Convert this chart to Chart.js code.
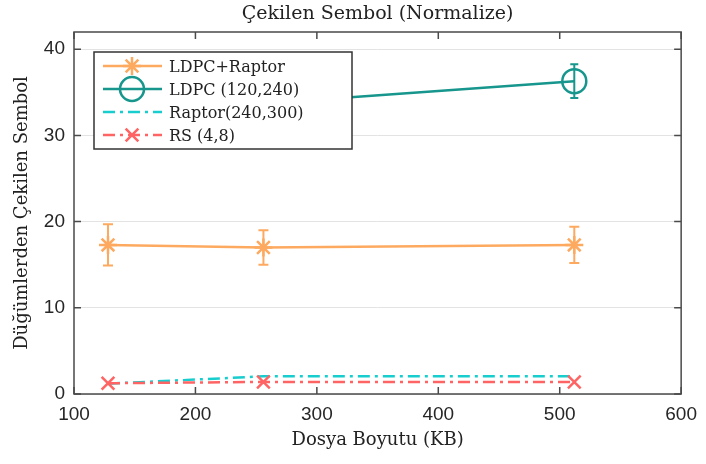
<!DOCTYPE html>
<html>
<head>
<meta charset="utf-8">
<script src="https://cdn.jsdelivr.net/npm/chart.js@4"></script>
<style>
  html, body { margin: 0; padding: 0; background: #fff; }
  #wrap { width: 706px; height: 464px; }
</style>
</head>
<body>
<div id="wrap"><canvas id="chart"></canvas></div>
<script>
// data
const fileSizes = [128, 256, 512];
const ldpcRaptor = [17.3, 17.0, 17.3];
const ldpcRaptorErr = [2.4, 2.0, 2.1];
const ldpc = [33.0, 33.7, 36.3];
const ldpcErr = [2.0, 2.0, 1.95];
const raptor = [1.2, 2.05, 2.05];
const rs = [1.25, 1.4, 1.4];
const xTicks = [100, 200, 300, 400, 500, 600];
const yTicks = [0, 10, 20, 30, 40];

const COL_ORANGE = '#FDAA60';
const COL_TEAL = '#16968C';
const COL_CYAN = '#18CDCD';
const COL_RED = '#FF6464';
const DASHDOT = [12, 5, 3, 5];
const SERIF = "'DejaVu Serif', serif";
const SANS = "'Liberation Sans', Arial, sans-serif";

function pts(ys) {
  return fileSizes.map((x, i) => ({ x, y: ys[i] }));
}

const series = [
  { label: 'LDPC+Raptor', data: ldpcRaptor, err: ldpcRaptorErr, color: COL_ORANGE,
    style: 'star', radius: 9, dash: [], cap: 5 },
  { label: 'LDPC (120,240)', data: ldpc, err: ldpcErr, color: COL_TEAL,
    style: 'circle', radius: 12, dash: [], cap: 4 },
  { label: 'Raptor(240,300)', data: raptor, err: null, color: COL_CYAN,
    style: false, radius: 0, dash: DASHDOT },
  { label: 'RS (4,8)', data: rs, err: null, color: COL_RED,
    style: 'crossRot', radius: 9, dash: DASHDOT },
];

// vertical error bars with caps
const errorBars = {
  id: 'errorBars',
  afterDatasetsDraw(chart) {
    const { ctx, scales: { x, y } } = chart;
    ctx.save();
    ctx.lineWidth = 2;
    series.forEach(s => {
      if (!s.err) return;
      ctx.strokeStyle = s.color;
      fileSizes.forEach((fx, i) => {
        const px = x.getPixelForValue(fx);
        const top = y.getPixelForValue(s.data[i] + s.err[i]);
        const bot = y.getPixelForValue(s.data[i] - s.err[i]);
        ctx.beginPath();
        ctx.moveTo(px, top); ctx.lineTo(px, bot);
        ctx.moveTo(px - s.cap, top); ctx.lineTo(px + s.cap, top);
        ctx.moveTo(px - s.cap, bot); ctx.lineTo(px + s.cap, bot);
        ctx.stroke();
      });
    });
    ctx.restore();
  }
};

// box around the axes with inward ticks, plus the title
const frame = {
  id: 'frame',
  afterDraw(chart) {
    const { ctx, chartArea: a, scales: { x, y } } = chart;
    ctx.save();
    ctx.strokeStyle = '#4a4a4a';
    ctx.lineWidth = 1.5;
    ctx.strokeRect(a.left, a.top, a.width, a.height);
    const tl = 7;
    ctx.beginPath();
    xTicks.forEach(v => {
      const px = x.getPixelForValue(v);
      ctx.moveTo(px, a.bottom); ctx.lineTo(px, a.bottom - tl);
      ctx.moveTo(px, a.top); ctx.lineTo(px, a.top + tl);
    });
    yTicks.forEach(v => {
      const py = y.getPixelForValue(v);
      ctx.moveTo(a.left, py); ctx.lineTo(a.left + tl, py);
      ctx.moveTo(a.right, py); ctx.lineTo(a.right - tl, py);
    });
    ctx.stroke();

    ctx.fillStyle = '#222';
    ctx.font = '19px ' + SERIF;
    ctx.textAlign = 'center';
    ctx.textBaseline = 'alphabetic';
    ctx.fillText('Çekilen Sembol (Normalize)', (a.left + a.right) / 2, 19);
    ctx.restore();
  }
};

// legend box in the upper left of the plot
const boxLegend = {
  id: 'boxLegend',
  afterDraw(chart) {
    const { ctx } = chart;
    const left = 94, top = 52, w = 258, h = 97;
    ctx.save();
    ctx.fillStyle = '#fff';
    ctx.fillRect(left, top, w, h);
    ctx.strokeStyle = '#333';
    ctx.lineWidth = 1.5;
    ctx.strokeRect(left, top, w, h);
    ctx.font = '16px ' + SERIF;
    ctx.textAlign = 'left';
    ctx.textBaseline = 'alphabetic';
    series.forEach((s, i) => {
      const base = 71.5 + i * 23;
      const ly = base - 5.5;
      ctx.strokeStyle = s.color;
      ctx.lineWidth = 2.5;
      ctx.setLineDash(s.dash);
      ctx.beginPath();
      ctx.moveTo(103, ly); ctx.lineTo(162, ly);
      ctx.stroke();
      ctx.setLineDash([]);
      if (s.style) {
        ctx.fillStyle = 'rgba(0,0,0,0)';
        Chart.helpers.drawPoint(ctx, { pointStyle: s.style, radius: s.radius, rotation: 0, borderWidth: 2.5 }, 132, ly);
      }
      ctx.fillStyle = '#222';
      ctx.fillText(s.label, 169, base);
    });
    ctx.restore();
  }
};

new Chart(document.getElementById('chart'), {
  type: 'line',
  data: {
    datasets: series.map((s, i) => ({
      label: s.label,
      data: pts(s.data),
      borderColor: s.color,
      backgroundColor: s.color,
      borderWidth: 2.5,
      borderDash: s.dash,
      pointStyle: s.style,
      pointRadius: s.radius,
      pointBorderWidth: 2.5,
      pointBorderColor: s.color,
      pointBackgroundColor: 'rgba(0,0,0,0)',
      fill: false,
      tension: 0,
      order: 3 - i,
    })),
  },
  options: {
    responsive: true,
    maintainAspectRatio: false,
    animation: false,
    layout: { padding: { top: 32, right: 19, left: 0, bottom: 0 } },
    plugins: {
      legend: { display: false },
      title: { display: false },
      tooltip: { enabled: false },
    },
    scales: {
      x: {
        type: 'linear',
        min: 100,
        max: 600,
        afterFit(scale) { scale.height = 70; },
        afterBuildTicks(scale) { scale.ticks = xTicks.map(v => ({ value: v })); },
        ticks: { color: '#262626', font: { family: SANS, size: 19 }, padding: 9, maxRotation: 0 },
        grid: { display: false, drawTicks: false },
        border: { display: false },
        title: { display: true, text: 'Dosya Boyutu (KB)', color: '#222',
                 font: { family: SERIF, size: 18 }, padding: { top: 0, bottom: 13 } },
      },
      y: {
        type: 'linear',
        min: 0,
        max: 42,
        afterFit(scale) { scale.width = 74; },
        afterBuildTicks(scale) { scale.ticks = yTicks.map(v => ({ value: v })); },
        ticks: { color: '#262626', font: { family: SANS, size: 19 }, padding: 9 },
        grid: { color: '#e3e3e3', lineWidth: 1, drawTicks: false },
        border: { display: false },
        title: { display: true, text: 'Düğümlerden Çekilen Sembol', color: '#222',
                 font: { family: SERIF, size: 18 }, padding: { top: 12, bottom: 0 } },
      },
    },
  },
  plugins: [errorBars, frame, boxLegend],
});
</script>
</body>
</html>
